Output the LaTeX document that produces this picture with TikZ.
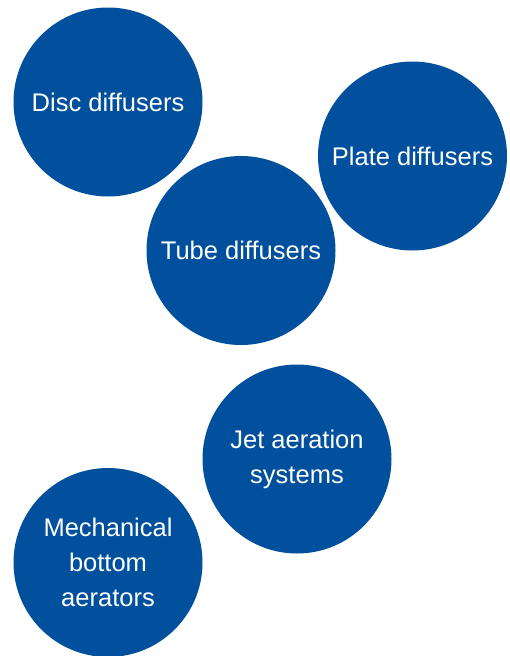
\documentclass[tikz,border=0pt]{standalone}
\usepackage{fontspec}
\setmainfont{Liberation Sans}
\usepackage{tikz}
\definecolor{aerblue}{HTML}{00509D}

\begin{document}
\begin{tikzpicture}[x=1pt,y=-1pt,
  bubble/.style={circle,fill=aerblue,minimum size=189pt,inner sep=0pt,
    text=white,align=center,font=\fontsize{25.5}{35}\selectfont}]
\useasboundingbox (0,0) rectangle (509,656);
\node[bubble] (disc) at (108,102) {Disc diffusers};
\node[bubble] (plate) at (412.5,156) {Plate diffusers};
\node[bubble] (tube) at (241,250.5) {Tube diffusers};
\node[bubble] (jet) at (297,459) {Jet aeration\\systems};
\node[bubble] (mech) at (108,562.5) {Mechanical\\bottom\\aerators};
\end{tikzpicture}
\end{document}
